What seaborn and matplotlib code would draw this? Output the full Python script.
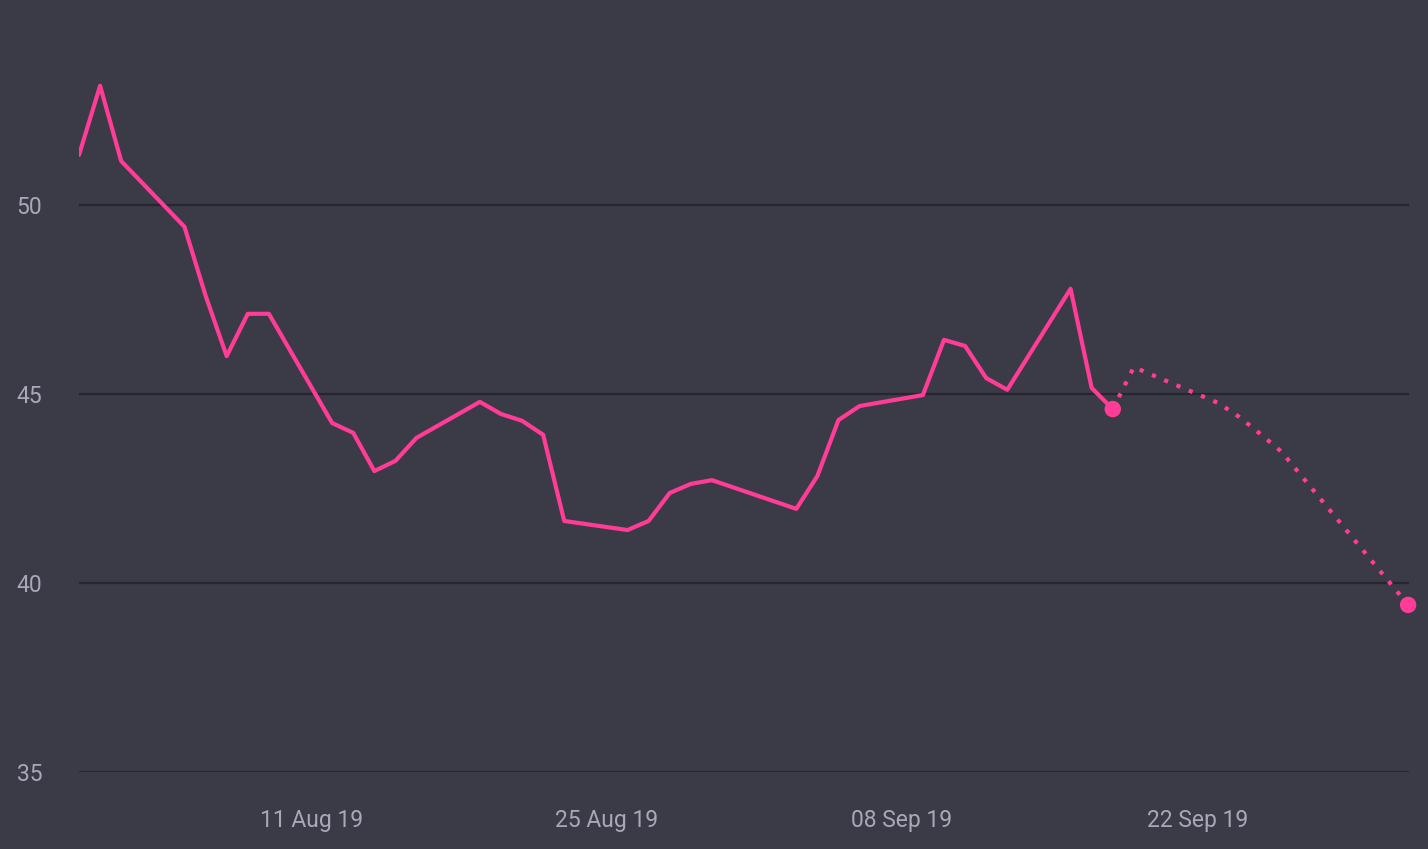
import matplotlib
matplotlib.use("Agg")
import matplotlib.pyplot as plt
import matplotlib.dates as mdates
import pandas as pd
import seaborn as sns

# observed values
obs_dates = ["2019-07-31", "2019-08-01", "2019-08-02", "2019-08-05", "2019-08-06",
             "2019-08-07", "2019-08-08", "2019-08-09", "2019-08-12", "2019-08-13",
             "2019-08-14", "2019-08-15", "2019-08-16", "2019-08-19", "2019-08-20",
             "2019-08-21", "2019-08-22", "2019-08-23", "2019-08-26", "2019-08-27",
             "2019-08-28", "2019-08-29", "2019-08-30", "2019-09-03", "2019-09-04",
             "2019-09-05", "2019-09-06", "2019-09-09", "2019-09-10", "2019-09-11",
             "2019-09-12", "2019-09-13", "2019-09-16", "2019-09-17", "2019-09-18"]
obs_values = [51.32, 53.15, 51.16, 49.42, 47.6,
              46.0, 47.12, 47.12, 44.23, 43.97,
              42.96, 43.23, 43.84, 44.79, 44.47,
              44.29, 43.92, 41.64, 41.40, 41.64,
              42.38, 42.62, 42.72, 41.96, 42.83,
              44.31, 44.68, 44.97, 46.43, 46.27,
              45.42, 45.11, 47.78, 45.16, 44.60]

# forecast values
fc_dates = ["2019-09-18", "2019-09-19", "2019-09-23", "2019-09-24", "2019-09-25",
            "2019-09-26", "2019-10-02"]
fc_values = [44.60, 45.71, 44.76, 44.39, 43.94, 43.47, 39.42]

y_ticks = [35, 40, 45, 50]
x_ticks = ["2019-08-11", "2019-08-25", "2019-09-08", "2019-09-22"]

bg = "#3b3a47"
pink = "#ff3d96"
txt = "#a9a7b9"
grid = "#27262f"

obs = pd.DataFrame({"date": pd.to_datetime(obs_dates), "value": obs_values})
fc = pd.DataFrame({"date": pd.to_datetime(fc_dates), "value": fc_values})
ends = pd.concat([obs.tail(1), fc.tail(1)])

sns.set_style("dark")
plt.rcParams["font.family"] = ["Roboto", "DejaVu Sans"]

fig = plt.figure(figsize=(14.28, 8.49), dpi=100, facecolor=bg)
ax = fig.add_axes([79 / 1428, 77 / 849, 1330 / 1428, 772 / 849])
ax.set_facecolor(bg)

sns.lineplot(data=obs, x="date", y="value", color=pink, linewidth=3, ax=ax)
sns.lineplot(data=fc, x="date", y="value", color=pink, linewidth=3,
             linestyle=(0, (1, 2.2)), ax=ax)
sns.scatterplot(data=ends, x="date", y="value", color=pink, s=140,
                edgecolor="none", ax=ax, zorder=5, clip_on=False)

ax.set_ylim(35, 55.42)
ax.set_xlim(pd.Timestamp("2019-07-31"), pd.Timestamp("2019-10-02 01:00"))
ax.set_yticks(y_ticks)
ax.set_xticks(pd.to_datetime(x_ticks))
ax.xaxis.set_major_formatter(mdates.DateFormatter("%d %b %y"))
ax.yaxis.grid(True, color=grid, linewidth=1.6)
ax.xaxis.grid(False)
for s in ax.spines.values():
    s.set_visible(False)
ax.tick_params(axis="both", colors=txt, labelsize=16.5, length=0)
ax.tick_params(axis="y", pad=45)
ax.tick_params(axis="x", pad=27)
for lab in ax.get_yticklabels():
    lab.set_horizontalalignment("left")
ax.set_xlabel("")
ax.set_ylabel("")
ax.set_axisbelow(True)

fig.savefig("out.png", dpi=100, facecolor=bg)
